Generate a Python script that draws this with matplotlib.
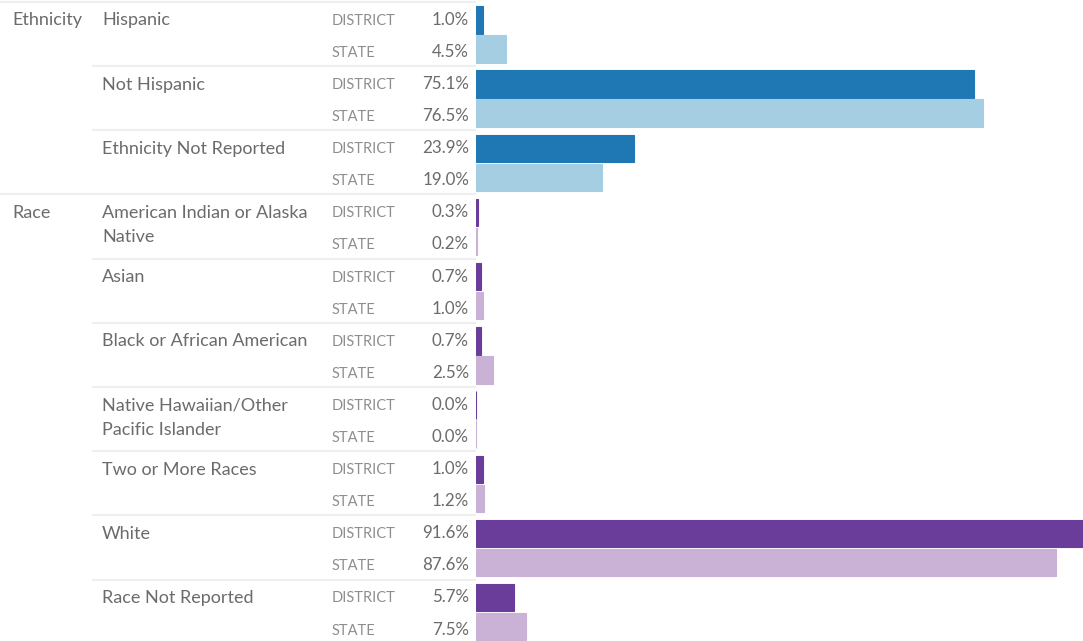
import matplotlib
matplotlib.use('Agg')
import matplotlib.pyplot as plt

# ---- data ----
groups = ['Hispanic', 'Not Hispanic', 'Ethnicity Not Reported',
          'American Indian or Alaska\nNative', 'Asian', 'Black or African American',
          'Native Hawaiian/Other\nPacific Islander', 'Two or More Races', 'White',
          'Race Not Reported']
group_section = ['Ethnicity', 'Ethnicity', 'Ethnicity',
                 'Race', 'Race', 'Race', 'Race', 'Race', 'Race', 'Race']
district = [1.0, 75.1, 23.9, 0.3, 0.7, 0.7, 0.04, 1.0, 91.6, 5.7]
state = [4.5, 76.5, 19.0, 0.2, 1.0, 2.5, 0.03, 1.2, 87.6, 7.5]
row_labels = ['DISTRICT', 'STATE']

# ---- style ----
W, H = 1083, 641
ROW = 32.1            # px per row (two rows per group)
TOP = 1.7             # px offset of the first group
BAR_LEFT = 476        # px where bars start
FONT = 'Lato'
c_dist = {'Ethnicity': '#1f78b4', 'Race': '#6a3d9a'}
c_state = {'Ethnicity': '#a6cee3', 'Race': '#cab2d6'}
txt = '#6b6b6b'
sub = '#8e8e8e'
sep = '#efefef'

def px(p):
    return p / ROW

fig = plt.figure(figsize=(W / 100, H / 100), dpi=100)
ylim = ((H - TOP) / ROW, -TOP / ROW)

ax_t = fig.add_axes([0, 0, 1, 1])
ax_t.set_xlim(0, W)
ax_t.set_ylim(*ylim)
ax_t.axis('off')

ax_b = fig.add_axes([BAR_LEFT / W, 0, 1 - BAR_LEFT / W, 1])
ax_b.set_xlim(0, 91.6)
ax_b.set_ylim(*ylim)
ax_b.axis('off')

prev_sec = None
for g, name in enumerate(groups):
    top = 2 * g
    sec = group_section[g]
    # separators
    x0 = 0 if sec != prev_sec else 92
    ax_t.plot([x0, 476], [top, top], color=sep, lw=1.5, solid_capstyle='butt', zorder=0)
    if sec != prev_sec:
        ax_t.text(12, top + px(23.7), sec, ha='left', va='baseline', fontsize=13,
                  color=txt, family=FONT)
    prev_sec = sec
    for k, line in enumerate(name.split('\n')):
        ax_t.text(102, top + px(23.7 + 24 * k), line, ha='left', va='baseline',
                  fontsize=13, color=txt, family=FONT)
    for base, lab, v in [(23.0, row_labels[0], district[g]), (55.0, row_labels[1], state[g])]:
        ax_t.text(332, top + px(base), lab, ha='left', va='baseline', fontsize=10.5,
                  color=sub, family=FONT)
        ax_t.text(469, top + px(base), f'{v:.1f}%', ha='right', va='baseline',
                  fontsize=12.2, color=txt, family=FONT)
    ax_b.barh(top + px(18.25), district[g], height=px(27.4), color=c_dist[sec],
              edgecolor=c_dist[sec], linewidth=0.8, left=0)
    ax_b.barh(top + px(47.25), state[g], height=px(27.4), color=c_state[sec],
              edgecolor=c_state[sec], linewidth=0.8, left=0)

fig.savefig('out.png', dpi=100)
